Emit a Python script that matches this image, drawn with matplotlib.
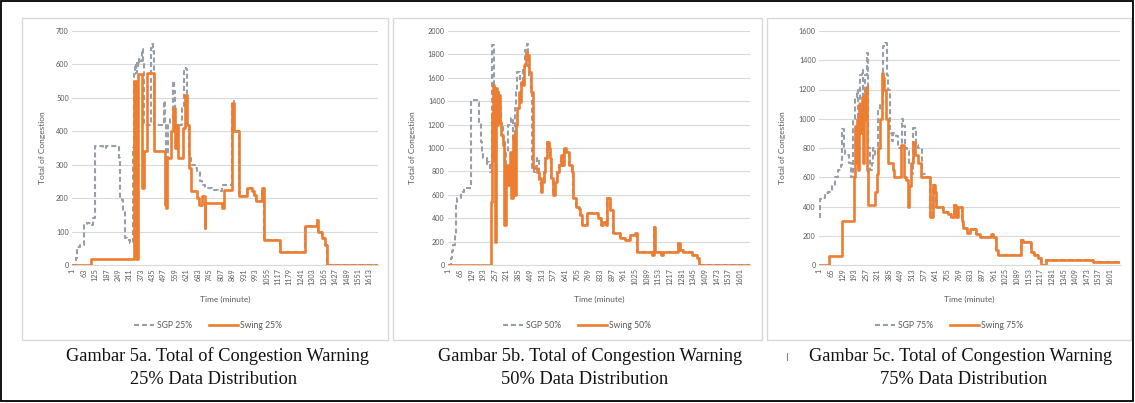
import matplotlib
matplotlib.use("Agg")
import matplotlib.pyplot as plt
from matplotlib.patches import Rectangle
from matplotlib.lines import Line2D

# ---------------- data (minute, value) step breakpoints ----------------
# Gambar 5a (25%)
sgp25 = [(1, 0), (22, 20), (25, 55), (45, 60), (66, 120), (80, 125), (100, 120), (114, 140),
         (122, 145), (124, 355), (170, 350), (185, 355), (249, 355), (252, 320), (258, 200),
         (272, 195), (278, 160), (285, 80), (300, 75), (312, 65), (330, 65), (333, 350),
         (336, 570), (341, 600), (346, 575), (351, 610), (357, 595), (363, 620), (370, 610),
         (378, 645), (384, 600), (390, 420), (420, 420), (428, 650), (434, 660), (440, 640),
         (446, 420), (494, 420), (500, 490), (505, 420), (509, 180), (515, 320), (520, 420),
         (532, 440), (545, 550), (552, 520), (560, 420), (590, 420), (596, 470), (608, 590),
         (620, 585), (626, 420), (634, 320), (645, 300), (665, 290), (680, 280), (692, 250),
         (705, 240), (720, 230), (760, 225), (790, 220), (815, 240), (866, 490), (880, 400)]
swing25 = [(1, 0), (104, 18), (333, 18), (335, 550), (347, 540), (349, 18), (360, 570),
           (377, 570), (379, 230), (388, 340), (406, 340), (408, 575), (444, 575), (446, 340),
           (502, 340), (504, 180), (510, 170), (515, 320), (525, 320), (538, 400), (550, 470),
           (558, 350), (566, 420), (574, 320), (601, 410), (612, 510), (626, 420), (634, 290),
           (645, 220), (676, 200), (690, 180), (705, 205), (720, 110), (724, 185), (812, 170),
           (826, 225), (866, 485), (880, 400)]
tail25 = [(904, 205), (950, 230), (976, 220), (988, 210), (998, 190), (1031, 230), (1040, 75),
          (1128, 38), (1265, 117), (1330, 135), (1336, 100), (1356, 80), (1370, 60), (1383, 0),
          (1662, 0)]

# Gambar 5b (50%)
sgp50 = [(1, 0), (14, 57), (22, 120), (29, 171), (38, 256), (45, 541), (50, 570), (69, 627),
         (87, 655), (105, 660), (124, 1410), (160, 1396), (172, 1225), (178, 1054), (184, 969),
         (191, 912), (211, 855), (215, 880), (224, 860), (230, 798), (240, 1300), (243, 1880),
         (251, 1510), (257, 1310), (264, 1480), (279, 1340), (288, 1197), (300, 1054),
         (310, 826), (318, 969), (328, 1197), (345, 1254), (356, 1054), (366, 1339),
         (373, 1481), (380, 1652), (392, 1567), (402, 1538), (412, 1681), (422, 1838),
         (430, 1890), (438, 1700), (446, 1600), (453, 1510), (462, 826), (471, 798), (480, 850),
         (489, 912), (496, 700)]
swing50 = [(1, 0), (233, 0), (234, 541), (240, 1300), (246, 1538), (252, 900), (255, 200),
           (260, 1510), (270, 1197), (275, 1453), (284, 1225), (291, 1111), (302, 1026),
           (306, 342), (315, 370), (320, 855), (328, 684), (337, 969), (346, 570), (355, 1111),
           (361, 912), (364, 598), (371, 1197), (379, 1339), (388, 1481), (393, 1396),
           (401, 1567), (409, 1538), (416, 1709), (425, 1823), (434, 1795), (443, 1652),
           (456, 1481), (463, 826), (489, 798), (498, 741)]
tail50 = [(507, 627), (516, 712), (525, 798), (534, 912), (543, 1054), (552, 1000), (558, 912),
          (565, 741), (576, 598), (584, 712), (598, 798), (607, 855), (620, 940), (627, 855),
          (638, 997), (649, 969), (662, 855), (677, 798), (686, 570), (699, 499), (718, 480),
          (726, 427), (735, 342), (755, 342), (763, 441), (820, 400), (836, 342), (851, 370),
          (866, 342), (873, 570), (888, 470), (906, 271), (943, 228), (970, 215), (998, 256),
          (1025, 270), (1038, 114), (1116, 85), (1131, 328), (1137, 114), (1166, 85),
          (1180, 114), (1263, 185), (1274, 128), (1290, 114), (1336, 85), (1363, 57),
          (1376, 0), (1656, 0)]

# Gambar 5c (75%)
sgp75 = [(1, 330), (3, 450), (14, 460), (32, 490), (51, 500), (70, 540), (87, 600), (106, 650),
         (118, 684), (128, 930), (136, 800), (145, 750), (165, 700), (178, 604), (188, 1000),
         (197, 1150), (206, 1200), (216, 900), (225, 1300), (234, 1330), (243, 1000),
         (255, 1300), (261, 1450), (268, 800), (280, 650), (289, 700), (298, 800), (307, 750),
         (326, 1050), (335, 1100), (353, 1500), (362, 1520), (371, 1300), (381, 1200),
         (390, 900), (399, 850), (408, 900), (423, 880), (436, 800), (454, 1000), (463, 950),
         (472, 800), (482, 780), (496, 700), (509, 620), (518, 940), (531, 820), (546, 800),
         (564, 620), (582, 600)]
swing75 = [(1, 0), (56, 60), (128, 300), (192, 300), (193, 600), (199, 950), (203, 700),
           (210, 1000), (216, 650), (221, 1100), (228, 900), (234, 1150), (239, 700),
           (245, 1000), (252, 1200), (261, 1220), (265, 650), (267, 410), (302, 410), (307, 500),
           (317, 620), (326, 800), (333, 1000), (344, 1310), (353, 1280), (358, 1200),
           (366, 1000), (377, 695), (405, 650), (410, 600), (445, 600), (450, 820), (463, 820),
           (468, 600), (480, 580), (490, 400), (497, 540), (506, 700), (515, 843), (527, 750),
           (546, 700), (560, 604)]
tail75 = [(610, 330), (628, 547), (637, 500), (646, 399), (684, 365), (712, 350), (725, 330),
          (745, 410), (756, 330), (766, 400), (785, 300), (794, 250), (812, 220), (830, 245),
          (862, 210), (885, 190), (945, 210), (955, 190), (972, 100), (985, 65), (1110, 170),
          (1122, 155), (1165, 90), (1185, 65), (1204, 45), (1222, 0), (1248, 35), (1508, 20),
          (1656, 20)]

ticks_a = [1, 63, 125, 187, 249, 311, 373, 435, 497, 559, 621, 683, 745, 807, 869, 931, 993,
           1055, 1117, 1179, 1241, 1303, 1365, 1427, 1489, 1551, 1613]
ticks_bc = [1, 65, 129, 193, 257, 321, 385, 449, 513, 577, 641, 705, 769, 833, 897, 961, 1025,
            1089, 1153, 1217, 1281, 1345, 1409, 1473, 1537, 1601]

pcts = ["25%", "50%", "75%"]
captions = [("Gambar 5a. Total of Congestion Warning", "25% Data Distribution"),
            ("Gambar 5b. Total of Congestion Warning", "50% Data Distribution"),
            ("Gambar 5c. Total of Congestion Warning", "75% Data Distribution")]

# ---------------- layout ----------------
W, H = 1135, 403
fig = plt.figure(figsize=(W / 100, H / 100), dpi=100)
fig.patch.set_facecolor("white")


def fx(px):
    return px / W


def fy(py):
    return 1 - py / H


GRAY = "#979EA8"
ORANGE = "#ED7D31"
TXT = "#595959"
GRID = "#D9D9D9"
FONT = "Lato"

panels = [
    dict(sgp=sgp25 + tail25, swing=swing25 + tail25, xmax=1662, ymax=700, ystep=100,
         ticks=ticks_a, x0=72.3, x1=378.3, ylab_x=42, box=(22, 18, 388, 340), leg_c=207,
         cap=(217, 214)),
    dict(sgp=sgp50 + tail50, swing=swing50 + tail50, xmax=1656, ymax=2000, ystep=200,
         ticks=ticks_bc, x0=448.3, x1=750, ylab_x=412, box=(393, 18, 762, 340), leg_c=576,
         cap=(590, 585)),
    dict(sgp=sgp75 + tail75, swing=swing75 + tail75, xmax=1656, ymax=1600, ystep=200,
         ticks=ticks_bc, x0=819.3, x1=1120, ylab_x=783, box=(767, 18, 1131, 340), leg_c=948,
         cap=(961, 964)),
]

YT, YB = 31, 265

for i, p in enumerate(panels):
    bx0, by0, bx1, by1 = p["box"]
    fig.add_artist(Rectangle((fx(bx0), fy(by1)), fx(bx1 - bx0), (by1 - by0) / H,
                             transform=fig.transFigure, fill=False, edgecolor=GRID, lw=1.0))
    ax = fig.add_axes([fx(p["x0"]), fy(YB), fx(p["x1"] - p["x0"]), (YB - YT) / H])
    ax.set_xlim(1, p["xmax"])
    ax.set_ylim(0, p["ymax"])
    st, sv = zip(*p["sgp"])
    wt, wv = zip(*p["swing"])
    ax.plot(st, sv, drawstyle="steps-post", color=GRAY, lw=1.5, ls=(0, (2.4, 1.4)), zorder=3)
    ax.plot(wt, wv, drawstyle="steps-post", color=ORANGE, lw=1.9, zorder=4)
    ax.set_yticks(range(0, p["ymax"] + 1, p["ystep"]))
    ax.set_xticks(p["ticks"])
    ax.set_xticklabels([str(t) for t in p["ticks"]], rotation=90, fontsize=5.2,
                       color=TXT, family=FONT)
    for lab in ax.get_yticklabels():
        lab.set_fontsize(5.2)
        lab.set_color(TXT)
        lab.set_family(FONT)
    ax.tick_params(length=0, pad=2.5)
    ax.yaxis.grid(True, color=GRID, lw=0.8)
    ax.set_axisbelow(True)
    for s in ["top", "right", "left"]:
        ax.spines[s].set_visible(False)
    ax.spines["bottom"].set_color(GRID)
    ax.spines["bottom"].set_linewidth(0.8)

    # axis titles
    fig.text(fx(p["ylab_x"]), fy((YT + YB) / 2), "Total of Congestion", rotation=90,
             ha="center", va="center", fontsize=6, color=TXT, family=FONT)
    fig.text(fx((p["x0"] + p["x1"]) / 2), fy(299), "Time (minute)", ha="center",
             va="center", fontsize=6, color=TXT, family=FONT)

    # legend
    c = p["leg_c"]
    ly = fy(325)
    fig.add_artist(Line2D([fx(c - 73), fx(c - 53)], [ly, ly], transform=fig.transFigure,
                          color=GRAY, lw=1.5, ls=(0, (2.4, 1.4))))
    fig.text(fx(c - 50), ly, "SGP " + pcts[i], ha="left", va="center", fontsize=6.2,
             color=TXT, family=FONT)
    fig.add_artist(Line2D([fx(c + 2), fx(c + 31)], [ly, ly], transform=fig.transFigure,
                          color=ORANGE, lw=1.9))
    fig.text(fx(c + 33), ly, "Swing " + pcts[i], ha="left", va="center", fontsize=6.2,
             color=TXT, family=FONT)

    # captions
    fig.text(fx(p["cap"][0]), fy(356), captions[i][0], ha="center", va="center",
             fontsize=13.2, color="#111111", family="Liberation Serif")
    fig.text(fx(p["cap"][1]), fy(379), captions[i][1], ha="center", va="center",
             fontsize=13.2, color="#111111", family="Liberation Serif")

# small stray mark near third caption
fig.add_artist(Line2D([fx(787), fx(787)], [fy(353), fy(360)], transform=fig.transFigure,
                      color="#888888", lw=0.8))

# outer black frame
fig.add_artist(Rectangle((fx(1), fy(401)), fx(1132), 400 / H, transform=fig.transFigure,
                         fill=False, edgecolor="black", lw=1.3))

fig.savefig("out.png", dpi=100, facecolor="white")
